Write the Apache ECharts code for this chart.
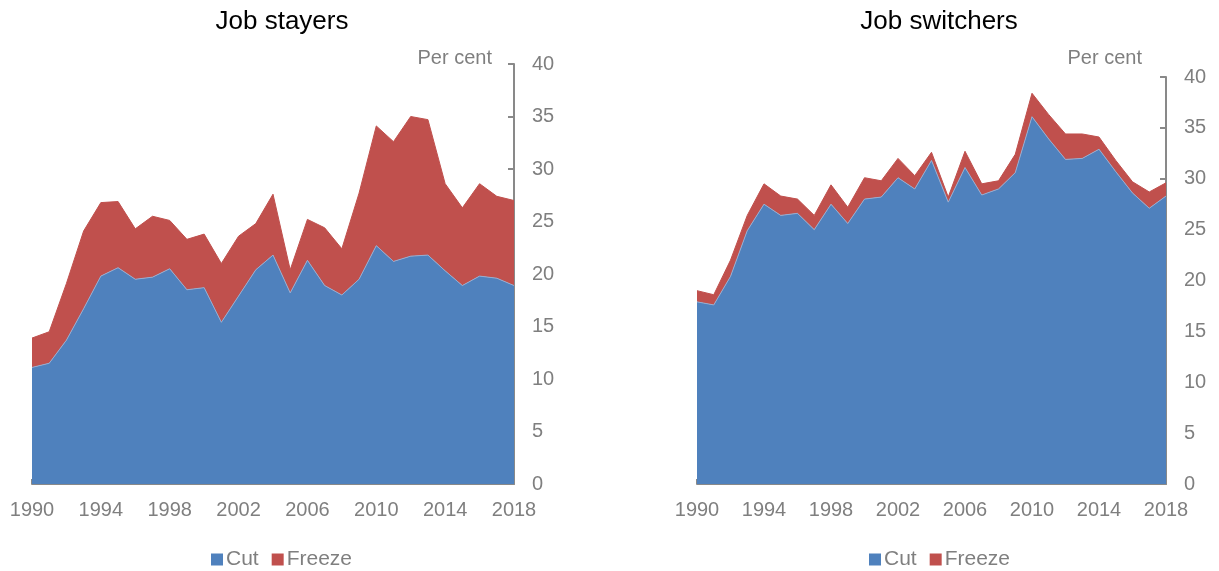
<!DOCTYPE html>
<html>
<head>
<meta charset="utf-8">
<script src="https://cdn.jsdelivr.net/npm/echarts@6/dist/echarts.min.js"></script>
<style>
  html, body { margin: 0; padding: 0; background: #fff; }
  #chart { width: 1219px; height: 571px; }
</style>
</head>
<body>
<div id="chart"></div>
<script>
// years on the x axis
const years = [];
for (let y = 1990; y <= 2018; y++) years.push(String(y));

// Job stayers (per cent)
const stayersCut = [11.1, 11.5, 13.7, 16.7, 19.8, 20.6, 19.5, 19.7, 20.5, 18.5, 18.7, 15.4, 17.9, 20.4, 21.8,
  18.2, 21.3, 18.9, 18.0, 19.5, 22.7, 21.2, 21.7, 21.8, 20.3, 18.9, 19.8, 19.6, 18.9];
const stayersTotal = [13.9, 14.5, 19.1, 24.1, 26.8, 26.9, 24.3, 25.5, 25.1, 23.3, 23.8, 21.0, 23.6, 24.8, 27.6,
  20.4, 25.2, 24.4, 22.4, 27.7, 34.1, 32.6, 35.0, 34.7, 28.6, 26.3, 28.6, 27.4, 27.0];

// Job switchers (per cent)
const switchersCut = [17.9, 17.6, 20.4, 24.9, 27.5, 26.4, 26.6, 25.0, 27.5, 25.6, 28.0, 28.2, 30.1, 29.0, 31.8,
  27.7, 31.1, 28.4, 29.0, 30.6, 36.1, 33.9, 31.9, 32.0, 32.9, 30.7, 28.6, 27.1, 28.3];
const switchersTotal = [19.0, 18.6, 22.0, 26.4, 29.5, 28.3, 28.0, 26.4, 29.4, 27.2, 30.1, 29.8, 32.0, 30.3, 32.6,
  28.2, 32.7, 29.5, 29.8, 32.4, 38.4, 36.3, 34.4, 34.4, 34.1, 31.8, 29.7, 28.7, 29.6];

const stayersFreeze = stayersTotal.map((v, i) => +(v - stayersCut[i]).toFixed(1));
const switchersFreeze = switchersTotal.map((v, i) => +(v - switchersCut[i]).toFixed(1));

const BLUE = '#4F81BD', RED = '#C0504D';
const FONT = '"Liberation Sans", Arial, sans-serif';
const axisGray = '#898989';
const labelGray = '#7f7f7f';

function xAxis(gridIndex) {
  return {
    type: 'category', gridIndex: gridIndex, data: years, boundaryGap: false,
    axisLine: { lineStyle: { color: axisGray, width: 2 } },
    axisTick: { inside: true, interval: 3, length: 5, lineStyle: { color: axisGray, width: 2 } },
    axisLabel: { interval: 3, color: labelGray, fontSize: 20, fontFamily: FONT, margin: 16 },
    splitLine: { show: false }
  };
}
function yAxis(gridIndex) {
  return {
    type: 'value', gridIndex: gridIndex, position: 'right', min: 0, max: 40, interval: 5,
    axisLine: { show: true, lineStyle: { color: axisGray, width: 2 } },
    axisTick: { show: true, inside: true, length: 6, lineStyle: { color: axisGray, width: 2 } },
    axisLabel: { color: labelGray, fontSize: 20, fontFamily: FONT, margin: 18, align: 'left' },
    splitLine: { show: false }
  };
}
function area(name, data, color, xi, stack) {
  return {
    name: name, type: 'line', xAxisIndex: xi, yAxisIndex: xi, stack: stack, data: data,
    symbol: 'none', smooth: false,
    lineStyle: { width: 1, color: name === 'Cut' ? '#93aed3' : RED },
    areaStyle: { color: color, opacity: 1 },
    itemStyle: { color: color }
  };
}
function legend(left) {
  return {
    left: left, top: 544, icon: 'rect', itemWidth: 12, itemHeight: 12, itemGap: 13,
    textStyle: { color: labelGray, fontSize: 21, fontFamily: FONT, padding: [0, 0, 0, -2] },
    data: ['Cut', 'Freeze']
  };
}

const chart = echarts.init(document.getElementById('chart'));
chart.setOption({
  animation: false,
  backgroundColor: '#fff',
  title: [
    { text: 'Job stayers', left: 277, top: 4, textAlign: 'center',
      textStyle: { color: '#000', fontSize: 26, fontWeight: 'normal', fontFamily: FONT } },
    { text: 'Job switchers', left: 934, top: 4, textAlign: 'center',
      textStyle: { color: '#000', fontSize: 26, fontWeight: 'normal', fontFamily: FONT } },
    { text: 'Per cent', left: 487, top: 43, textAlign: 'right',
      textStyle: { color: labelGray, fontSize: 20, fontWeight: 'normal', fontFamily: FONT } },
    { text: 'Per cent', left: 1137, top: 43, textAlign: 'right',
      textStyle: { color: labelGray, fontSize: 20, fontWeight: 'normal', fontFamily: FONT } }
  ],
  legend: [legend(206), legend(864)],
  grid: [
    { left: 32, right: 705, top: 64, bottom: 87 },
    { left: 697, right: 53, top: 77, bottom: 87 }
  ],
  xAxis: [xAxis(0), xAxis(1)],
  yAxis: [yAxis(0), yAxis(1)],
  series: [
    area('Cut', stayersCut, BLUE, 0, 'a'),
    area('Freeze', stayersFreeze, RED, 0, 'a'),
    area('Cut', switchersCut, BLUE, 1, 'b'),
    area('Freeze', switchersFreeze, RED, 1, 'b')
  ]
});
</script>
</body>
</html>
